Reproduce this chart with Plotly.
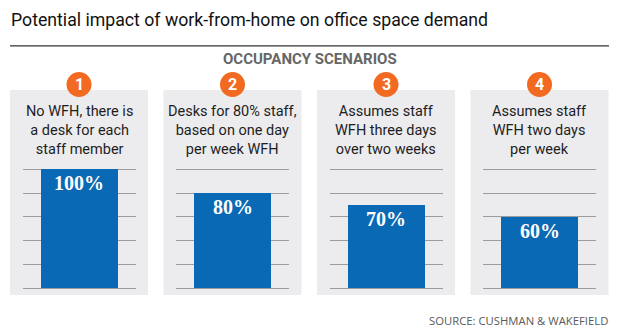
import plotly.graph_objects as go

# ---- data ----
scenario_numbers = ["1", "2", "3", "4"]
scenario_lines = [
    ["No WFH, there is", "a desk for each", "staff member"],
    ["Desks for 80% staff,", "based on one day", "per week WFH"],
    ["Assumes staff", "WFH three days", "over two weeks"],
    ["Assumes staff", "WFH two days", "per week"],
]
occupancy_pct = [100, 80, 70, 60]
pct_labels = ["100%", "80%", "70%", "60%"]
grid_ticks = [0, 20, 40, 60, 80, 100]

title_text = "Potential impact of work-from-home on office space demand"
subtitle_text = "OCCUPANCY SCENARIOS"
source_text = "SOURCE: CUSHMAN & WAKEFIELD"

# ---- styling / layout ----
W, H = 620, 334
BLUE = "#0a69b4"
PANEL_BG = "#ececee"
GRID = "#9c9c9c"
ORANGE = "#f26a21"
TEXT = "#1e1e1e"

def px_x(x):
    return x / W

def px_y(y):
    return 1 - y / H

panel_w = 138
panel_step = 153.5
panel_left0 = 10
inset = 12.5
y_lo, y_hi = -1, 101
y_px0 = 288.3  # pixel of value 0
y_per = 1.19   # pixels per unit

fig = go.Figure()
shapes = []
annotations = []
layout_axes = {}

for i, (num, lines, val, lab) in enumerate(zip(scenario_numbers, scenario_lines, occupancy_pct, pct_labels)):
    P = panel_left0 + i * panel_step
    cx = P + panel_w / 2
    sfx = "" if i == 0 else str(i + 1)
    xa, ya = "x" + sfx, "y" + sfx

    # panel background
    shapes.append(dict(type="rect", xref="paper", yref="paper", layer="below",
                       x0=px_x(P), x1=px_x(P + panel_w), y0=px_y(295), y1=px_y(90),
                       fillcolor=PANEL_BG, line=dict(width=0)))
    # number badge
    r = 12.5
    cy = 84.5
    shapes.append(dict(type="circle", xref="paper", yref="paper",
                       x0=px_x(cx - r), x1=px_x(cx + r), y0=px_y(cy + r), y1=px_y(cy - r),
                       fillcolor=ORANGE, line=dict(width=0)))
    annotations.append(dict(xref="paper", yref="paper", x=px_x(cx), y=px_y(cy + 0.5),
                            text="<b>" + num + "</b>", showarrow=False,
                            font=dict(family="Roboto", size=16, color="white"),
                            xanchor="center", yanchor="middle"))
    # description block
    annotations.append(dict(xref="paper", yref="paper", x=px_x(cx), y=px_y(130),
                            text="<br>".join(lines), showarrow=False, align="center",
                            font=dict(family="Roboto", size=14.5, color=TEXT),
                            xanchor="center", yanchor="middle", borderpad=0))

    gl = P + inset
    gr = P + panel_w - inset
    dom_top = y_px0 - (y_hi - 0) * y_per
    dom_bot = y_px0 + (0 - y_lo) * y_per
    layout_axes["xaxis" + sfx] = dict(domain=[px_x(gl), px_x(gr)], range=[-0.5, 0.5],
                                      visible=False, anchor=ya, fixedrange=True)
    layout_axes["yaxis" + sfx] = dict(domain=[px_y(dom_bot), px_y(dom_top)], range=[y_lo, y_hi],
                                      tickvals=grid_ticks, showticklabels=False, showgrid=True,
                                      gridcolor=GRID, gridwidth=1.2, zeroline=False, showline=False,
                                      ticks="", anchor=xa, fixedrange=True)

    fig.add_trace(go.Bar(x=[0], y=[val], width=[77 / (gr - gl)], marker=dict(color=BLUE, line=dict(width=0)),
                         xaxis=xa, yaxis=ya, showlegend=False, hoverinfo="skip"))
    annotations.append(dict(xref=xa, yref=ya, x=0, y=val, text=lab, showarrow=False,
                            font=dict(family="Liberation Serif", size=20, color="white", weight="bold"),
                            xanchor="center", yanchor="top", yshift=-1))

# header
annotations.append(dict(xref="paper", yref="paper", x=px_x(9), y=px_y(19.5), text=title_text,
                        showarrow=False, xanchor="left", yanchor="middle",
                        font=dict(family="Roboto", size=17.7, color="#111")))
shapes.append(dict(type="line", xref="paper", yref="paper", x0=px_x(10), x1=px_x(609),
                   y0=px_y(45.8), y1=px_y(45.8), line=dict(color="#333", width=1.3)))
annotations.append(dict(xref="paper", yref="paper", x=0.5, y=px_y(59), text="<b>" + subtitle_text + "</b>",
                        showarrow=False, xanchor="center", yanchor="middle",
                        font=dict(family="Roboto", size=15, color="#666")))
annotations.append(dict(xref="paper", yref="paper", x=px_x(610), y=px_y(320), text=source_text,
                        showarrow=False, xanchor="right", yanchor="middle",
                        font=dict(family="Open Sans", size=11.3, color="#5a5a5a")))

fig.update_layout(width=W, height=H, margin=dict(l=0, r=0, t=0, b=0),
                  paper_bgcolor="white", plot_bgcolor="rgba(0,0,0,0)",
                  shapes=shapes, annotations=annotations, bargap=0, **layout_axes)

fig.write_html("out.html", config={"displayModeBar": False})
